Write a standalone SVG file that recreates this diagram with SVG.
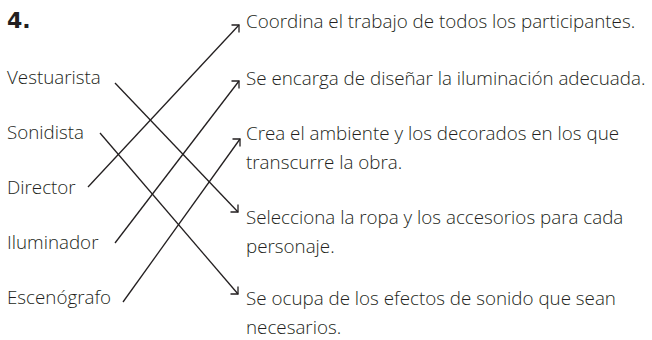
<svg xmlns="http://www.w3.org/2000/svg" width="652" height="340" viewBox="0 0 652 340">
<defs>
<style>
text{font-family:"Open Sans","Noto Sans",sans-serif;font-size:18.8px;fill:#231f20;font-weight:300}
.num{font-family:"DejaVu Sans",sans-serif;font-weight:bold;font-size:22px}
.c{stroke:#231f20;stroke-width:1.3;fill:none}
.up{marker-end:url(#hu)}
.dn{marker-end:url(#hd)}
</style>
<marker id="hu" markerUnits="userSpaceOnUse" orient="0" markerWidth="10" markerHeight="10" refX="0" refY="0" overflow="visible">
<path d="M-7.5,0 L0,0 L0,7.5" fill="none" stroke="#231f20" stroke-width="1.3"/>
</marker>
<marker id="hd" markerUnits="userSpaceOnUse" orient="0" markerWidth="10" markerHeight="10" refX="0" refY="0" overflow="visible">
<path d="M0,-7.5 L0,0 L-7.5,0" fill="none" stroke="#231f20" stroke-width="1.3"/>
</marker>
</defs>
<rect width="652" height="340" fill="#fff"/>
<text class="num" x="7" y="28">4.</text>
<g id="left">
<g id="vestuarista"><text x="7" y="84">Vestuarista</text></g>
<g id="sonidista"><text x="7" y="139">Sonidista</text></g>
<g id="director"><text x="7" y="194">Director</text></g>
<g id="iluminador"><text x="7" y="249">Iluminador</text></g>
<g id="escenografo"><text x="7" y="304">Escenógrafo</text></g>
</g>
<g id="right">
<g id="coordina"><text x="246" y="28">Coordina el trabajo de todos los participantes.</text></g>
<g id="encarga"><text x="246" y="85">Se encarga de diseñar la iluminación adecuada.</text></g>
<g id="crea"><text x="246" y="140">Crea el ambiente y los decorados en los que</text><text x="246" y="169">transcurre la obra.</text></g>
<g id="selecciona"><text x="246" y="224">Selecciona la ropa y los accesorios para cada</text><text x="246" y="253">personaje.</text></g>
<g id="ocupa"><text x="246" y="305">Se ocupa de los efectos de sonido que sean</text><text x="246" y="334">necesarios.</text></g>
</g>
<g id="connectors">
<path class="c dn" d="M115,83 L238,212"/>
<path class="c dn" d="M100,133 L238,294"/>
<path class="c up" d="M88,187 L239,25"/>
<path class="c up" d="M115,243 L239,81"/>
<path class="c up" d="M123,302 L240,139"/>
</g>
</svg>
